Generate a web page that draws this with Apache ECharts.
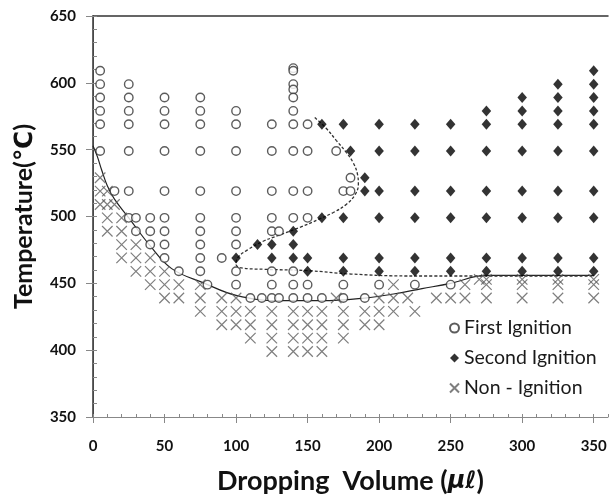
<!DOCTYPE html>
<html><head><meta charset="utf-8">
<script src="https://cdn.jsdelivr.net/npm/echarts@6/dist/echarts.min.js"></script>
<style>html,body{margin:0;padding:0;background:#fff}#c{width:612px;height:503px}</style>
</head><body><div id="c"></div>
<script>
const xTickLabels = [0, 50, 100, 150, 200, 250, 300, 350];
const yTickLabels = [350, 400, 450, 500, 550, 600, 650];

const firstIgnition = [
  [5,609],[5,599],[5,589],[5,579],[5,569],[5,549],
  [25,599],[25,589],[25,579],[25,569],[25,549],
  [50,589],[50,579],[50,569],[50,549],
  [75,589],[75,579],[75,569],[75,549],
  [100,579],[100,569],[100,549],
  [125,569],[125,549],
  [140,611],[140,609],[140,599],[140,595],[140,589],[140,579],[140,569],[140,549],
  [150,569],[150,549],[170,549],
  [180,529],
  [15,519],[25,519],[50,519],[75,519],[100,519],[125,519],[140,519],[150,519],[175,519],[180,519],
  [25,499],[30,499],[40,499],[50,499],[75,499],[100,499],[125,499],[140,499],[150,499],
  [30,489],[40,489],[50,489],[75,489],[100,489],[125,489],[130,489],
  [40,479],[50,479],[75,479],[100,479],
  [50,469],[75,469],[90,469],
  [60,459],[75,459],[100,459],[125,459],[140,459],
  [80,449],[100,449],[125,449],[140,449],[150,449],[175,449],[200,449],[225,449],[250,449],
  [110,439],[118,439],[125,439],[130,439],[140,439],[150,439],[160,439],[175,439],[190,439]
];

const secondIgnition = [
  [350,609],
  [325,599],[350,599],
  [300,589],[325,589],[350,589],
  [275,579],[300,579],[325,579],[350,579],
  [160,569],[175,569],[200,569],[225,569],[250,569],[275,569],[300,569],[325,569],[350,569],
  [180,549],[200,549],[225,549],[250,549],[275,549],[300,549],[325,549],[350,549],
  [190,529],
  [190,519],[200,519],[225,519],[250,519],[275,519],[300,519],[325,519],[350,519],
  [160,499],[175,499],[200,499],[225,499],[250,499],[275,499],[300,499],[325,499],[350,499],
  [140,489],
  [115,479],[125,479],[140,479],
  [100,469],[125,469],[140,469],[150,469],[175,469],[200,469],[225,469],[250,469],[275,469],[300,469],[325,469],[350,469],
  [150,459],[175,459],[200,459],[225,459],[250,459],[275,459],[300,459],[325,459],[350,459]
];

const nonIgnition = [
  [5,529],
  [5,519],[10,519],
  [5,509],[10,509],[15,509],
  [10,499],[20,499],
  [10,489],[20,489],
  [20,479],[30,479],
  [20,469],[30,469],[40,469],
  [30,459],[40,459],[50,459],
  [40,449],[50,449],[60,449],[75,449],[210,449],
  [270,453],[275,453],[300,453],[325,453],[350,453],
  [260,449],[275,449],[300,449],[325,449],[350,449],
  [50,439],[60,439],[75,439],[90,439],[100,439],[170,439],[200,439],[210,439],[220,439],
  [240,439],[250,439],[260,439],[275,439],[300,439],[325,439],[350,439],
  [75,429],[90,429],[100,429],[110,429],[125,429],[140,429],[150,429],[160,429],[175,429],[190,429],[200,429],[210,429],[225,429],
  [90,419],[100,419],[110,419],[125,419],[140,419],[150,419],[160,419],[175,419],[190,419],[200,419],
  [110,409],[125,409],[140,409],[150,409],[160,409],[175,409],
  [125,399],[140,399],[150,399],[160,399]
];

const lowerBoundary = [
  [0,553],[3,545],[6,535],[10,523],[15,513],[25,499],[40,478],[55,461],[78,450],[100,441],
  [130,437],[160,437],[190,439],[210,442],[230,446],[250,450],[275,456],[300,456],[350,456]
];

const secondBoundary = [
  [155,574],[163,566],[170,557],[177,548],[182,540],[185,531],[185.5,524],[183,516],[177,509],
  [168,503],[158,498],[145,492],[130,486],[118,481],[108,475],[101,469],[100,464],[104,461.5],
  [120,460.5],[150,459.5],[180,457],[220,455.5],[350,455.5]
];

const FONT = 'Lato, "DejaVu Sans", "Noto Sans CJK SC", sans-serif';
const chart = echarts.init(document.getElementById('c'), null, {renderer: 'canvas'});
const noShow = {show: false};
chart.setOption({
  animation: false,
  backgroundColor: '#fff',
  grid: {left: 93, right: 4, top: 16, bottom: 86, containLabel: false},
  legend: {
    data: ['First Ignition', 'Second Ignition', 'Non - Ignition'],
    orient: 'vertical', left: 444, top: 312, padding: 5,
    itemWidth: 9, itemHeight: 9, itemGap: 8,
    textStyle: {fontFamily: FONT, fontSize: 19.5, color: '#1a1a1a', lineHeight: 22}
  },
  xAxis: [
    {type: 'value', min: 0, max: 360, interval: 50, position: 'bottom',
     axisLine: {show: true, lineStyle: {color: '#888', width: 1}},
     axisTick: {show: true, inside: false, length: 6, customValues: xTickLabels, lineStyle: {color: '#888'}},
     axisLabel: {customValues: xTickLabels, margin: 22, fontFamily: FONT, fontWeight: 'bold', fontSize: 15, color: '#111'},
     splitLine: noShow,
     name: 'Dropping  Volume ({i|μℓ})', nameLocation: 'middle', nameGap: 51,
     nameTextStyle: {fontFamily: FONT, fontWeight: 'bold', fontSize: 27, color: '#111',
       rich: {i: {fontFamily: '"DejaVu Sans", sans-serif', fontStyle: 'italic', fontWeight: 'bold', fontSize: 24, color: '#111'}}}},
    {type: 'value', min: 0, max: 360, interval: 10, position: 'bottom',
     axisLine: noShow, axisLabel: noShow, splitLine: noShow,
     axisTick: {show: true, inside: true, length: 3, lineStyle: {color: '#888'}}},
    {type: 'value', min: 0, max: 360, position: 'top',
     axisLine: {show: true, lineStyle: {color: '#333', width: 1.5}},
     axisTick: noShow, axisLabel: noShow, splitLine: noShow}
  ],
  yAxis: [
    {type: 'value', min: 350, max: 650, interval: 50, position: 'left',
     axisLine: {show: true, lineStyle: {color: '#888', width: 1}},
     axisTick: {show: true, inside: false, length: 7, lineStyle: {color: '#888'}},
     axisLabel: {margin: 17, fontFamily: FONT, fontWeight: 'bold', fontSize: 15, color: '#111'},
     splitLine: noShow,
     name: 'Temperature(℃)', nameLocation: 'middle', nameGap: 57,
     nameTextStyle: {fontFamily: FONT, fontWeight: 'bold', fontSize: 25, color: '#111'}},
    {type: 'value', min: 350, max: 650, interval: 10, position: 'left',
     axisLine: noShow, axisLabel: noShow, splitLine: noShow,
     axisTick: {show: true, inside: true, length: 4, lineStyle: {color: '#888'}}},
    {type: 'value', min: 350, max: 650, position: 'right',
     axisLine: {show: true, lineStyle: {color: '#333', width: 1.5}},
     axisTick: noShow, axisLabel: noShow, splitLine: noShow}
  ],
  series: [
    {type: 'line', name: 'fit', data: lowerBoundary, smooth: 0.4, symbol: 'none',
     lineStyle: {color: '#222', width: 1.2}, z: 1, silent: true},
    {type: 'line', name: 'boundary2', data: secondBoundary, smooth: 0.4, symbol: 'none',
     lineStyle: {color: '#333', width: 1.3, type: [3, 2]}, z: 1, silent: true},
    {type: 'scatter', name: 'Non - Ignition', data: nonIgnition,
     symbol: 'path://M0,0L10,10M10,0L0,10', symbolSize: 10.5,
     itemStyle: {color: 'rgba(0,0,0,0)', borderColor: '#5e5e5e', borderWidth: 1.2}, z: 2},
    {type: 'scatter', name: 'First Ignition', data: firstIgnition,
     symbol: 'circle', symbolSize: 8.5,
     itemStyle: {color: '#fff', borderColor: '#333', borderWidth: 1.4}, z: 3},
    {type: 'scatter', name: 'Second Ignition', data: secondIgnition,
     symbol: 'diamond', symbolSize: [9.5, 11],
     itemStyle: {color: '#000'}, z: 4}
  ]
});
</script></body></html>
